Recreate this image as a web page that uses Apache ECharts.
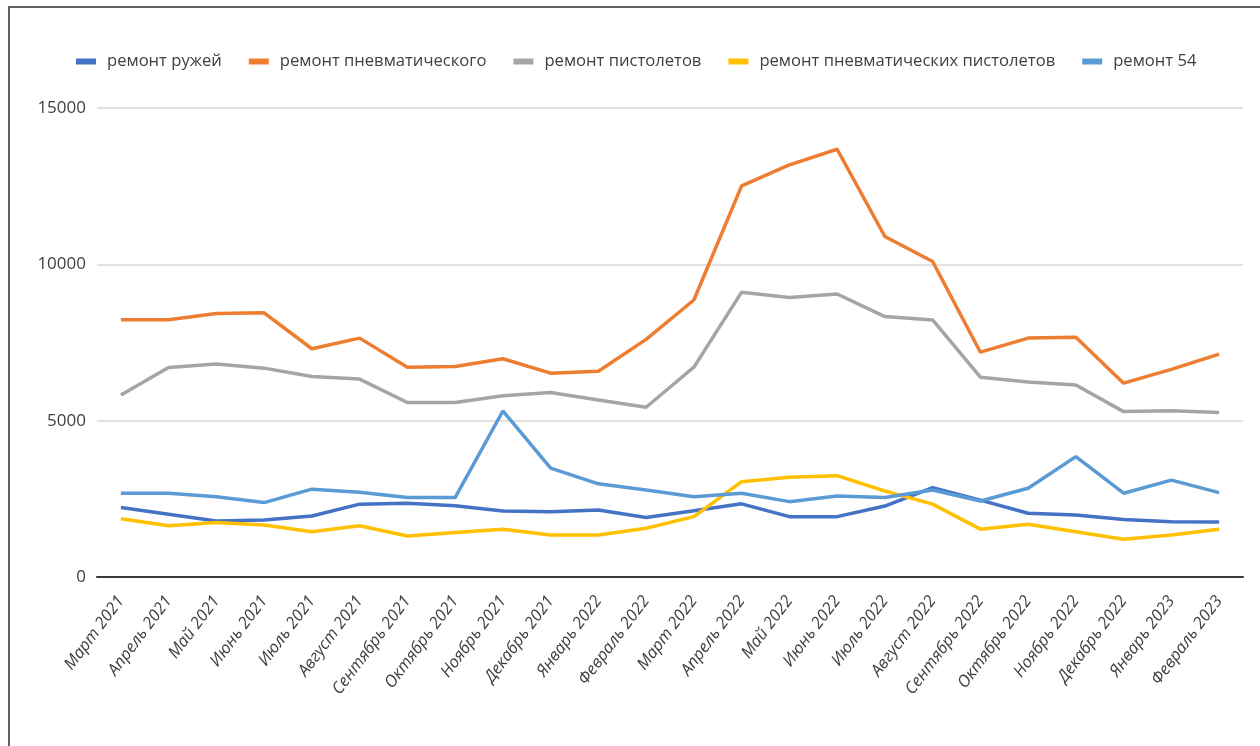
<!DOCTYPE html>
<html>
<head>
<meta charset="utf-8">
<script src="https://cdn.jsdelivr.net/npm/echarts@6/dist/echarts.min.js"></script>
<style>
  html, body { margin: 0; padding: 0; background: #ffffff; }
  #chart { position: absolute; left: 0; top: 0; width: 1260px; height: 746px; }
  #frame {
    position: absolute; left: 8px; top: 6px; width: 1270px; height: 760px;
    border: 2px solid #5f5f5f; box-sizing: border-box; pointer-events: none;
  }
</style>
</head>
<body>
<div id="chart"></div>
<div id="frame"></div>
<script>
// Months on the category axis
const months = [
  'Март 2021', 'Апрель 2021', 'Май 2021', 'Июнь 2021', 'Июль 2021', 'Август 2021',
  'Сентябрь 2021', 'Октябрь 2021', 'Ноябрь 2021', 'Декабрь 2021', 'Январь 2022', 'Февраль 2022',
  'Март 2022', 'Апрель 2022', 'Май 2022', 'Июнь 2022', 'Июль 2022', 'Август 2022',
  'Сентябрь 2022', 'Октябрь 2022', 'Ноябрь 2022', 'Декабрь 2022', 'Январь 2023', 'Февраль 2023'
];

// Monthly counts per repair type
const rifles = [2220, 2010, 1790, 1820, 1950, 2330, 2360, 2280, 2110, 2090, 2140, 1900,
                2120, 2340, 1930, 1930, 2270, 2860, 2460, 2040, 1980, 1840, 1770, 1760];
const pneumatic = [8230, 8230, 8430, 8450, 7300, 7640, 6710, 6730, 6980, 6520, 6580, 7600,
                   8860, 12510, 13180, 13680, 10890, 10090, 7190, 7640, 7670, 6200, 6640, 7130];
const pistols = [5820, 6700, 6810, 6680, 6410, 6330, 5580, 5580, 5800, 5900, 5660, 5430,
                 6710, 9110, 8940, 9050, 8330, 8220, 6390, 6240, 6140, 5290, 5320, 5260];
const pneumaticPistols = [1860, 1640, 1740, 1660, 1450, 1640, 1310, 1420, 1530, 1340, 1340, 1560,
                          1930, 3050, 3190, 3240, 2750, 2330, 1530, 1690, 1450, 1210, 1340, 1530];
const repair54 = [2680, 2680, 2570, 2380, 2810, 2710, 2540, 2540, 5310, 3480, 2980, 2780,
                  2570, 2680, 2410, 2590, 2540, 2780, 2430, 2840, 3850, 2680, 3100, 2700];

// Value-axis ticks
const yTicks = [0, 5000, 10000, 15000];

const seriesNames = ['ремонт ружей', 'ремонт пневматического', 'ремонт пистолетов',
                     'ремонт пневматических пистолетов', 'ремонт 54'];
const seriesData = [rifles, pneumatic, pistols, pneumaticPistols, repair54];
const palette = ['#4472C4', '#ED7D31', '#A5A5A5', '#FFC000', '#5B9BD5'];

const FONT = '"Open Sans", "Noto Sans", sans-serif';
const chart = echarts.init(document.getElementById('chart'), null, { renderer: 'canvas' });

chart.setOption({
  animation: false,
  color: palette,
  textStyle: { fontFamily: FONT },
  legend: {
    left: 71,
    top: 48,
    icon: 'rect',
    itemWidth: 20,
    itemHeight: 6,
    itemGap: 27,
    textStyle: { fontSize: 16.6, color: '#404040', fontFamily: FONT, padding: [0, 0, 0, 6] },
    data: seriesNames
  },
  grid: { left: 97, right: 17, top: 108, bottom: 169, containLabel: false },
  xAxis: {
    type: 'category',
    data: months,
    boundaryGap: true,
    axisLine: { lineStyle: { color: '#3a3a3a', width: 2 } },
    axisTick: { show: false },
    axisLabel: {
      interval: 0, rotate: 53, margin: 21,
      fontSize: 16.5, fontStyle: 'italic', color: '#404040', fontFamily: FONT
    }
  },
  yAxis: {
    type: 'value',
    min: yTicks[0],
    max: yTicks[yTicks.length - 1],
    interval: yTicks[1] - yTicks[0],
    axisLine: { show: false },
    axisTick: { show: false },
    axisLabel: {
      margin: 11, fontSize: 17, color: '#404040', fontFamily: FONT,
      formatter: (v) => String(v)
    },
    splitLine: { lineStyle: { color: '#d9d9d9', width: 1.5 } }
  },
  series: seriesNames.map((name, i) => ({
    name: name,
    type: 'line',
    data: seriesData[i],
    symbol: 'none',
    lineStyle: { width: 3.5, color: palette[i] },
    itemStyle: { color: palette[i] }
  }))
});
</script>
</body>
</html>
